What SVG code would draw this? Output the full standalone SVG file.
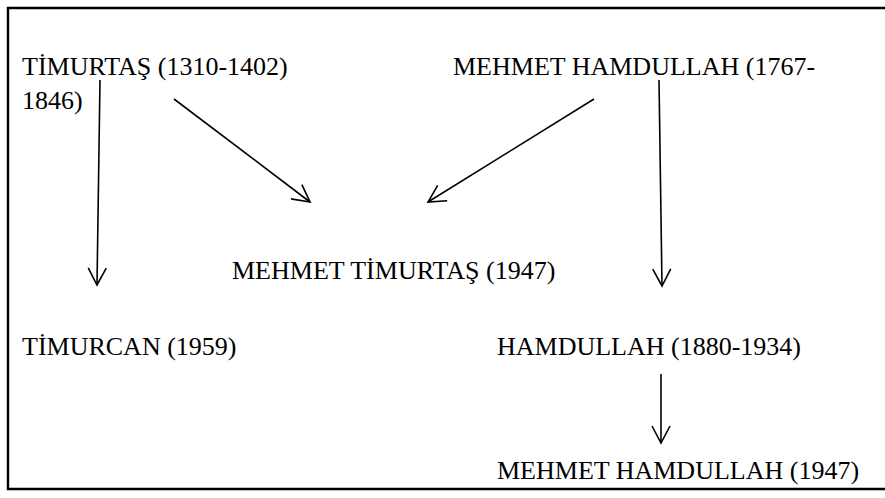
<svg xmlns="http://www.w3.org/2000/svg" width="885" height="498" viewBox="0 0 885 498">
  <style>
    .lbl { font-family: "Liberation Serif", "Times New Roman", serif; font-size: 26px; fill: #000; }
    .edge { stroke: #000; stroke-width: 1.6; fill: none; }
  </style>
  <defs>
    <marker id="arrow" viewBox="0 0 20 20" refX="18" refY="10" markerWidth="20" markerHeight="20" markerUnits="userSpaceOnUse" orient="auto">
      <path d="M1,1 L18,10 L1,19" fill="none" stroke="#000" stroke-width="1.6"/>
    </marker>
  </defs>
  <rect width="885" height="498" fill="#fff"/>
  <!-- frame: open on the right -->
  <path d="M885,8 H8 V489 H885" fill="none" stroke="#000" stroke-width="2.4"/>

  <g id="timurtas">
    <text class="lbl" x="22" y="75">TİMURTAŞ (1310-1402)</text>
    <text class="lbl" x="22" y="109">1846)</text>
  </g>
  <g id="mehmet-hamdullah-1767">
    <text class="lbl" x="453" y="75">MEHMET HAMDULLAH (1767-</text>
  </g>
  <g id="mehmet-timurtas">
    <text class="lbl" x="232" y="279">MEHMET TİMURTAŞ (1947)</text>
  </g>
  <g id="timurcan">
    <text class="lbl" x="22" y="355">TİMURCAN (1959)</text>
  </g>
  <g id="hamdullah">
    <text class="lbl" x="497" y="355">HAMDULLAH (1880-1934)</text>
  </g>
  <g id="mehmet-hamdullah-1947">
    <text class="lbl" x="497" y="479">MEHMET HAMDULLAH (1947)</text>
  </g>

  <g id="connectors">
    <line class="edge" x1="100" y1="80" x2="97" y2="285" marker-end="url(#arrow)"/>
    <line class="edge" x1="174" y1="99" x2="310" y2="202" marker-end="url(#arrow)"/>
    <line class="edge" x1="594" y1="99" x2="428" y2="202" marker-end="url(#arrow)"/>
    <line class="edge" x1="659" y1="80" x2="662" y2="286" marker-end="url(#arrow)"/>
    <line class="edge" x1="661" y1="374" x2="661" y2="443" marker-end="url(#arrow)"/>
  </g>
</svg>
